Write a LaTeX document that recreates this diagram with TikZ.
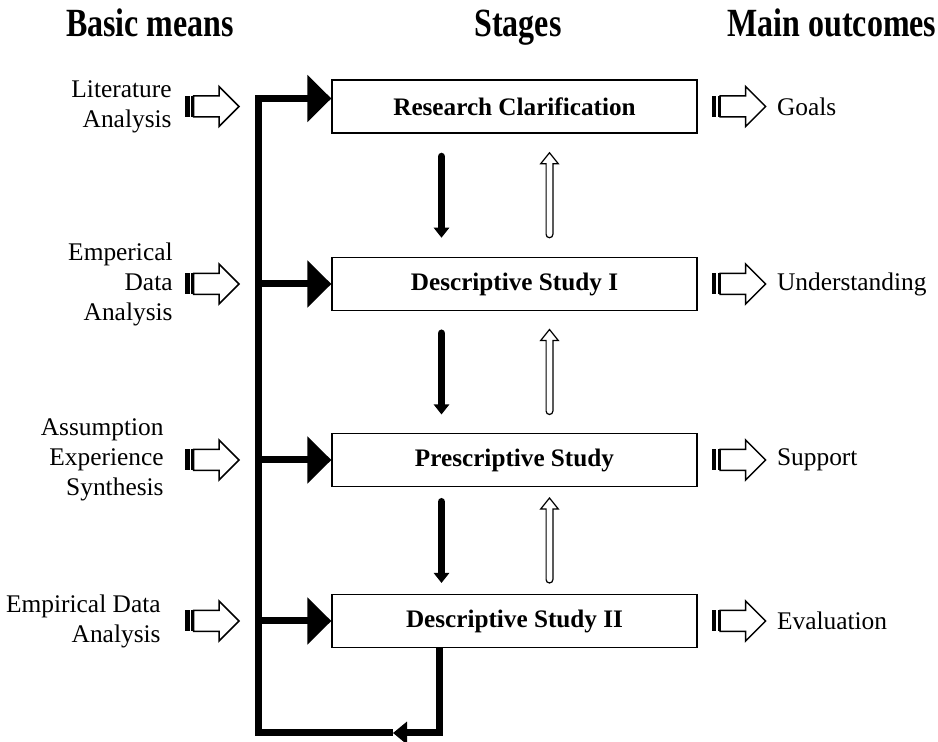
\documentclass[tikz,border=0pt]{standalone}
\usepackage{fontspec}
\setmainfont{Liberation Serif}
\newfontfamily\headfont{Liberation Serif}[FakeStretch=0.8]
\usetikzlibrary{arrows.meta,positioning,calc}
\tikzset{
  >={Triangle[length=12pt,width=23pt]},
  stage/.style={draw,line width=0.65pt,minimum width=182.5pt,minimum height=26.5pt,
    font=\fontsize{12.6}{15}\selectfont\bfseries},
  means/.style={inner sep=0pt,align=right,font=\fontsize{12.7}{15}\selectfont},
  head/.style={inner sep=0pt,anchor=base,font=\headfont\bfseries\fontsize{20}{24}\selectfont},
  bus/.style={line width=3.5pt},
  feed/.style={bus,->},
  down flow/.style={line width=3.75pt,line cap=round,-{Triangle[length=5pt,width=7.5pt]}},
  hollow up/.style={draw,fill=white,line width=0.6pt,
    to path={let \p1=(\tikztostart),\p2=(\tikztotarget) in
      ({\x1-1.7pt},{\y1+1.7pt}) -- ({\x1-1.7pt},{\y2-5.5pt}) -- ({\x1-4.4pt},{\y2-5.5pt})
      -- (\x2,\y2) -- ({\x1+4.4pt},{\y2-5.5pt}) -- ({\x1+1.7pt},{\y2-5.5pt})
      -- ({\x1+1.7pt},{\y1+1.7pt}) arc[start angle=0,end angle=-180,radius=1.7pt] -- cycle}},
  % striped block arrow, origin at the tail
  pics/block arrow/.style={code={
    \fill (0,-10.5) rectangle (4.5,10.5);
    \fill (6,-10.5) rectangle (8.5,10.5);
    \draw[line width=0.75pt,fill=white] (8.5,-10.5) -- (34,-10.5) -- (34,-20) -- (54,0)
      -- (34,20) -- (34,10.5) -- (8.5,10.5) -- cycle;
  }},
}

\begin{document}
\begin{tikzpicture}[x=0.5pt,y=-0.5pt]
  \useasboundingbox (0,0) rectangle (938,742);
  \node[head] (hm) at (150,37) {Basic means};
  \node[head] (hs) at (518,37) {Stages};
  \node[head] (ho) at (832,37) {Main outcomes};

  \foreach \means/\mx/\stage/\outcome/\y [count=\i] in {
    {Literature\\Analysis}/172/Research Clarification/Goals/106.5,
    {Emperical\\Data\\Analysis}/173/Descriptive Study I/Understanding/284,
    {Assumption\\Experience\\Synthesis}/164/Prescriptive Study/Support/460,
    {Empirical Data\\Analysis}/161/Descriptive Study II/Evaluation/621}
  {
    \node[stage] (s\i) at (514.5,\y) {\stage};
    \node[means,anchor=east] (m\i) at (\mx,\y) {\means};
    \pic at (185,\y) {block arrow};
    \pic at ([xshift=7pt]s\i.east) {block arrow};
    \node[means,anchor=west] (o\i) at ([xshift=39.5pt]s\i.east) {\outcome};
  }

  % feedback loop and the bus
  \coordinate (loop) at (393,733);
  \coordinate (rail) at (258,733);
  \draw[bus,-{Triangle[length=7pt,width=11pt]}] ([xshift=-37.5pt]s4.south) |- (loop);
  \draw[feed] (loop) -- (rail) |- ([yshift=4pt]s1.west);
  \foreach \i in {2,3,4}
    \draw[feed] (rail |- s\i.west) -- (s\i.west);

  % stage to stage
  \foreach \a/\b in {1/2,2/3,3/4} {
    \coordinate (gap) at ($(s\a.south)!.5!(s\b.north)$);
    \draw[down flow] ([shift={(-73,-38.75)}]gap) -- ([shift={(-73,42.5)}]gap);
    \draw[hollow up] ([shift={(35,42.5)}]gap) to ([shift={(35,-42.5)}]gap);
  }
\end{tikzpicture}
\end{document}
